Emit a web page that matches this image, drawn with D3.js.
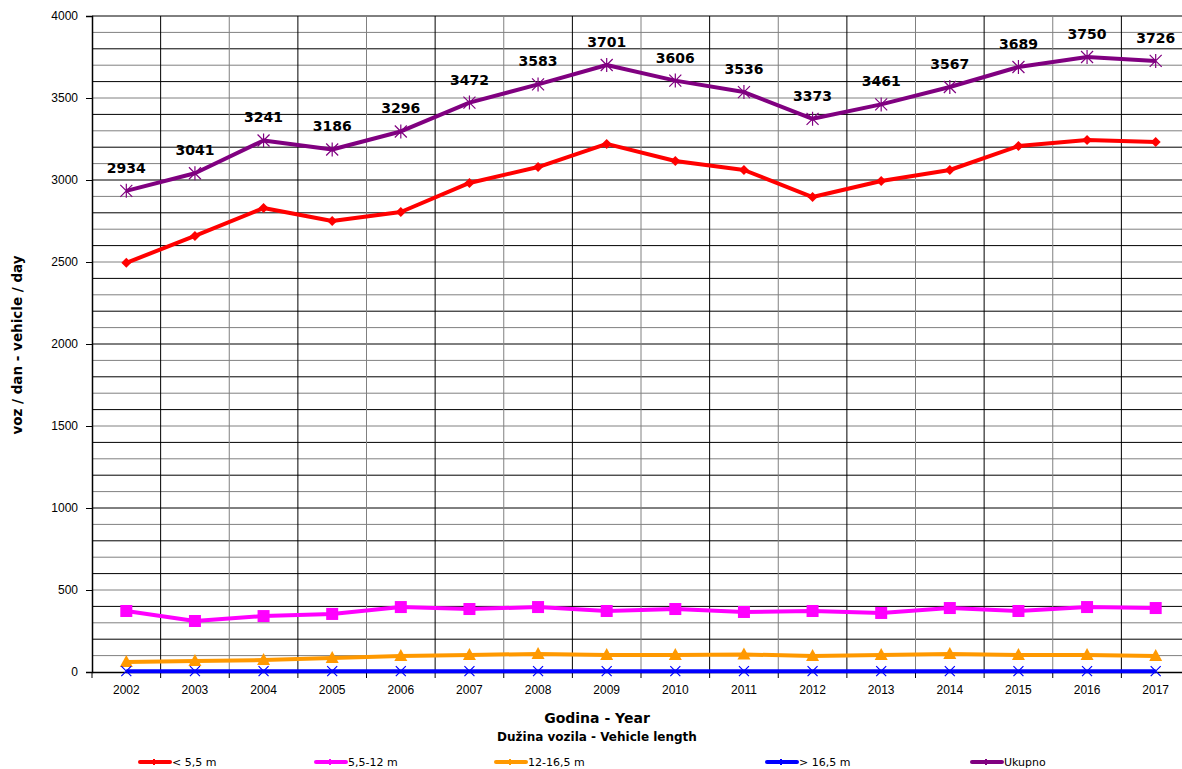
<!DOCTYPE html>
<html>
<head>
<meta charset="utf-8">
<script src="https://cdn.jsdelivr.net/npm/d3@7"></script>
<style>
  body { margin: 0; background: #fff; }
  svg { display: block; font-family: Verdana, "DejaVu Sans", sans-serif; }
  .tick text { font-size: 12px; fill: #000; }
</style>
</head>
<body>
<div id="chart"></div>
<script>
  var years = ["2002","2003","2004","2005","2006","2007","2008","2009","2010","2011","2012","2013","2014","2015","2016","2017"];
  var lenShort = [2495, 2659, 2829, 2750, 2805, 2982, 3079, 3220, 3116, 3061, 2896, 2994, 3061, 3207, 3244, 3232];
  var lenMid = [372, 311, 341, 354, 396, 384, 396, 372, 384, 366, 372, 360, 390, 372, 396, 390];
  var lenLong = [61, 67, 73, 85, 98, 104, 110, 104, 104, 107, 98, 104, 110, 104, 104, 98];
  var lenXL = [5, 5, 5, 5, 5, 5, 5, 5, 5, 5, 5, 5, 5, 5, 5, 5];
  var total = [2934, 3041, 3241, 3186, 3296, 3472, 3583, 3701, 3606, 3536, 3373, 3461, 3567, 3689, 3750, 3726];
  var yTicks = [0, 500, 1000, 1500, 2000, 2500, 3000, 3500, 4000];

  var series = [
    {name: "< 5,5 m", values: lenShort, color: "#ff0000", marker: "diamond"},
    {name: "5,5-12 m", values: lenMid, color: "#ff00ff", marker: "square"},
    {name: "12-16,5 m", values: lenLong, color: "#ff9900", marker: "triangle"},
    {name: "> 16,5 m", values: lenXL, color: "#0000ff", marker: "cross"},
    {name: "Ukupno", values: total, color: "#800080", marker: "star"}
  ];
  var legendX = [140, 316, 496, 767, 972];

  const margin = {top: 16, left: 92},
      width = 1098,
      height = 656;

  var svg = d3.select("#chart").append("svg")
      .attr("width", 1182)
      .attr("height", 769);

  var g = svg.append("g")
      .attr("transform", "translate(" + margin.left + "," + margin.top + ")");

  var x = d3.scaleBand().domain(years).range([0, width]);
  var y = d3.scaleLinear().domain([0, 4000]).range([height, 0]);
  var cx = function(i) { return x(years[i]) + x.bandwidth() / 2; };

  // grid lines, every 100
  var minor = d3.range(100, 4001, 100);
  g.selectAll(".hgrid").data(minor).join("line")
      .attr("x1", 0).attr("x2", width)
      .attr("y1", d => y(d)).attr("y2", d => y(d))
      .attr("stroke", (d, i) => i % 2 ? "#000" : "#808080")
      .attr("stroke-width", 1);
  g.selectAll(".vgrid").data(years.slice(1)).join("line")
      .attr("x1", d => x(d)).attr("x2", d => x(d))
      .attr("y1", 0).attr("y2", height)
      .attr("stroke", (d, i) => i % 2 ? "#808080" : "#000")
      .attr("stroke-width", 1);

  // axes
  var yAxis = g.append("g")
      .call(d3.axisLeft(y).tickValues(yTicks).tickFormat(d3.format("d")).tickSize(6).tickPadding(8));
  yAxis.select(".domain").attr("stroke", "#000").attr("stroke-width", 1.5);

  var xAxis = g.append("g")
      .attr("transform", "translate(0," + height + ")")
      .call(d3.axisBottom(x).tickSize(0).tickPadding(13));
  xAxis.select(".domain").attr("stroke", "#000").attr("stroke-width", 1.5);
  xAxis.selectAll(".xt").data(years.concat(["end"])).join("line")
      .attr("x1", (d, i) => i * x.bandwidth()).attr("x2", (d, i) => i * x.bandwidth())
      .attr("y1", 0).attr("y2", 6).attr("stroke", "#000");

  // lines
  var line = d3.line()
      .x((d, i) => cx(i))
      .y(d => y(d));

  function marker(sel, type, color) {
    if (type === "diamond") {
      sel.append("path").attr("d", "M0,-5L5,0L0,5L-5,0Z").attr("fill", color);
    } else if (type === "square") {
      sel.append("rect").attr("x", -6).attr("y", -6).attr("width", 12).attr("height", 12).attr("fill", color);
    } else if (type === "triangle") {
      sel.append("path").attr("d", "M0,-7L6.5,5L-6.5,5Z").attr("fill", color);
    } else if (type === "cross") {
      sel.append("path").attr("d", "M-5,-5L5,5M5,-5L-5,5").attr("stroke", color).attr("stroke-width", 1.2);
    } else {
      sel.append("path").attr("d", "M-6,-6L6,6M6,-6L-6,6M0,-7L0,7").attr("stroke", color).attr("stroke-width", 1.2);
    }
  }

  series.forEach(function(s) {
    g.append("path")
        .datum(s.values)
        .attr("fill", "none")
        .attr("stroke", s.color)
        .attr("stroke-width", 4)
        .attr("stroke-linejoin", "round")
        .attr("d", line);
    s.values.forEach(function(v, i) {
      var m = g.append("g").attr("transform", "translate(" + cx(i) + "," + y(v) + ")");
      marker(m, s.marker, s.color);
    });
  });

  // value labels for total
  g.selectAll(".lbl").data(total).join("text")
      .attr("x", (d, i) => cx(i))
      .attr("y", d => y(d) - 18)
      .attr("text-anchor", "middle")
      .attr("font-size", "14px")
      .attr("font-weight", "bold")
      .text(d => d);

  // titles
  svg.append("text")
      .attr("transform", "translate(22,345) rotate(-90)")
      .attr("text-anchor", "middle")
      .attr("font-size", "13.5px")
      .attr("font-weight", "bold")
      .text("voz / dan - vehicle / day");
  svg.append("text")
      .attr("x", 597).attr("y", 723)
      .attr("text-anchor", "middle")
      .attr("font-size", "14px")
      .attr("font-weight", "bold")
      .text("Godina - Year");
  svg.append("text")
      .attr("x", 597).attr("y", 741)
      .attr("text-anchor", "middle")
      .attr("font-size", "12px")
      .attr("font-weight", "bold")
      .text("Dužina vozila - Vehicle length");

  // legend
  series.forEach(function(s, i) {
    var lg = svg.append("g").attr("transform", "translate(" + legendX[i] + ",762)");
    lg.append("line").attr("x1", 0).attr("x2", 30).attr("y1", 0).attr("y2", 0)
        .attr("stroke", s.color).attr("stroke-width", 4).attr("stroke-linecap", "round");
    lg.append("line").attr("x1", 14).attr("x2", 14).attr("y1", -3).attr("y2", 3)
        .attr("stroke", s.color).attr("stroke-width", 2);
    lg.append("text").attr("x", 32).attr("y", 4)
        .attr("font-size", "11px")
        .text(s.name);
  });
</script>
</body>
</html>
